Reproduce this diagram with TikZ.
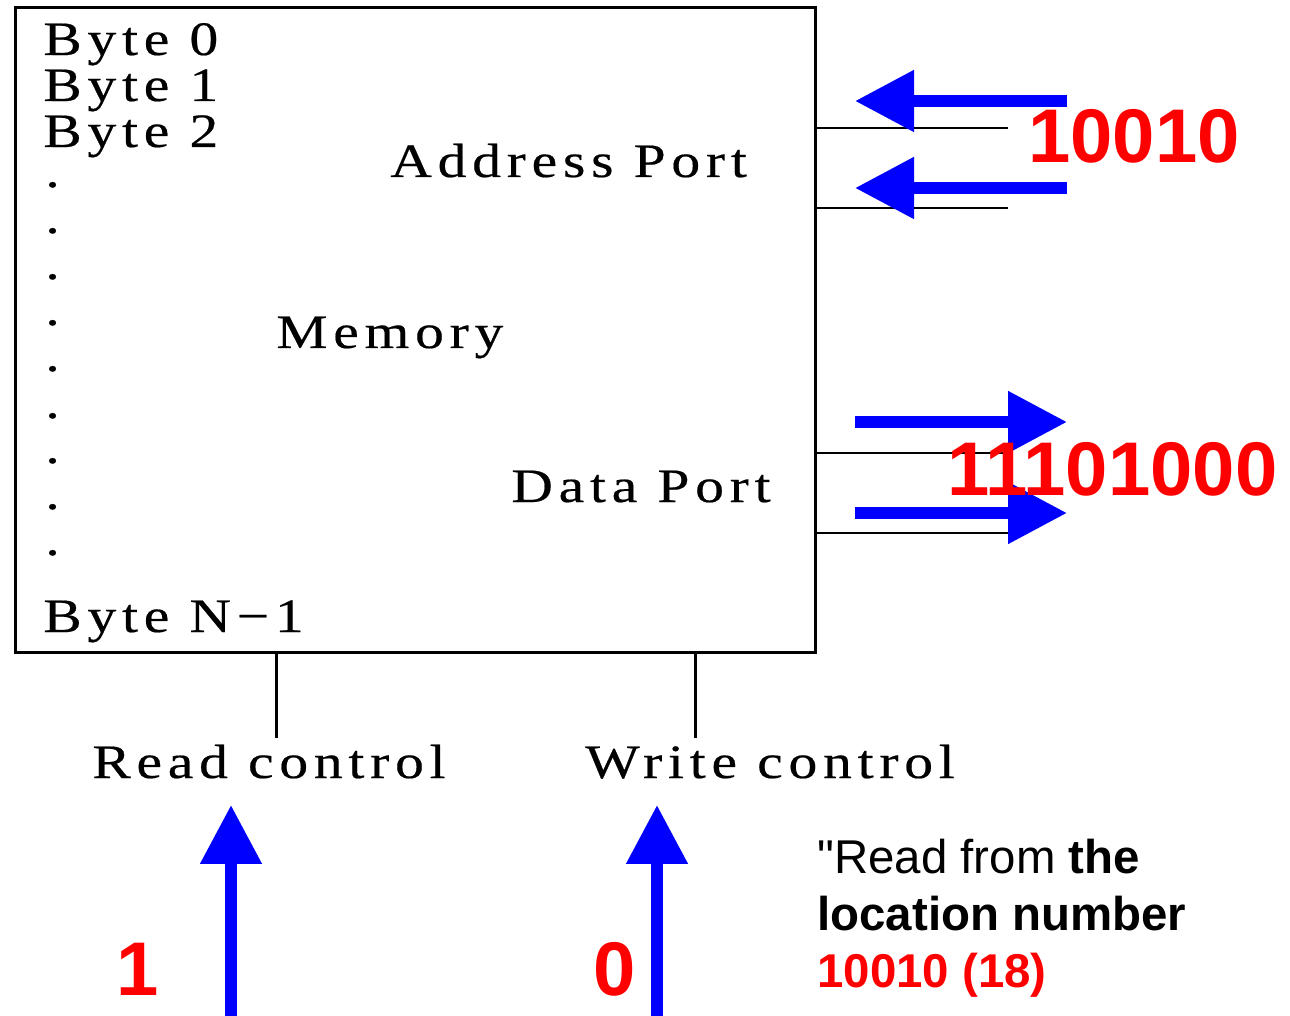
\documentclass[tikz,border=0pt]{standalone}
\usepackage{fontspec}
\setmainfont{Liberation Serif}
\newfontfamily\labelsans{Liberation Sans}
\newfontfamily\wideserif[FakeStretch=1.2,LetterSpace=12,FakeBold=0.4]{Liberation Serif}
\usetikzlibrary{arrows.meta}

\tikzset{
  serif/.style={inner sep=0pt, anchor=base west,
    font=\wideserif\fontsize{27.3pt}{32pt}\selectfont},
  bignum/.style={inner sep=0pt, anchor=base west, text=red,
    font=\labelsans\bfseries\fontsize{43.3pt}{50pt}\selectfont},
  note/.style={inner sep=0pt, anchor=base west,
    font=\labelsans\fontsize{27pt}{32pt}\selectfont},
  wire/.style={draw=black, line width=0.05cm},
  membox/.style={draw=black, line width=0.06cm, inner sep=0pt,
    minimum width=16.02cm, minimum height=12.92cm},
  bluearrow/.style={draw=blue, line width=0.23cm,
    -{Triangle[length=1.18cm,width=1.18cm]}},
}

\begin{document}
\begin{tikzpicture}[x=0.02cm,y=-0.02cm]
  \useasboundingbox (0,0) rectangle (1290,1016);

  % memory block
  \node[membox] (mem) at (415.5,330) {};

  % byte list
  \node[serif] (b0) at (43,55) {Byte 0};
  \node[serif] (b1) at (43,101) {Byte 1};
  \node[serif] (b2) at (43,147) {Byte 2};
  \foreach \yy [count=\k] in {187,233,279,325,371,418,463,509,555}
    \node[serif] (dot\k) at (45,\yy) {.};
  \node[serif] (bn) at (43,632) {Byte N−1};

  % inner labels
  \node[serif] (addr) at (390,177) {Address Port};
  \node[serif] (memlbl) at (276,348) {Memory};
  \node[serif] (data) at (511,502) {Data Port};

  % address and data port wires
  \coordinate (a1s) at (817,128);  \coordinate (a1e) at (1008,128);
  \coordinate (a2s) at (817,208);  \coordinate (a2e) at (1008,208);
  \coordinate (d1s) at (817,453);  \coordinate (d1e) at (1008,453);
  \coordinate (d2s) at (817,533);  \coordinate (d2e) at (1008,533);
  \draw[wire] (a1s) -- (a1e);
  \draw[wire] (a2s) -- (a2e);
  \draw[wire] (d1s) -- (d1e);
  \draw[wire] (d2s) -- (d2e);

  % control lines
  \node[serif] (rd) at (92,778) {Read control};
  \node[serif] (wr) at (585,778) {Write control};
  \coordinate (rtop) at (276,654);
  \coordinate (wtop) at (695,654);
  \draw[wire, line width=0.06cm] (rtop) -- ([yshift=0.12cm]rtop |- rd.north);
  \draw[wire, line width=0.06cm] (wtop) -- ([yshift=0.12cm]wtop |- wr.north);

  % signal arrows
  \coordinate (ai1) at (1067,101);  \coordinate (ao1) at (855,101);
  \coordinate (ai2) at (1067,188);  \coordinate (ao2) at (855,188);
  \coordinate (di1) at (855,422);   \coordinate (do1) at (1067,422);
  \coordinate (di2) at (855,513);   \coordinate (do2) at (1067,513);
  \coordinate (ri) at (231,1016);   \coordinate (ro) at (231,805);
  \coordinate (wi) at (657,1016);   \coordinate (wo) at (657,805);
  \draw[bluearrow] (ai1) -- (ao1);
  \draw[bluearrow] (ai2) -- (ao2);
  \draw[bluearrow] (di1) -- (do1);
  \draw[bluearrow] (di2) -- (do2);
  \draw[bluearrow] (ri) -- (ro);
  \draw[bluearrow] (wi) -- (wo);

  % values on the buses
  \node[bignum] (addrval) at (1028,163) {10010};
  \node[bignum] (dataval) at (947,495) {11101000};
  \node[bignum] (rdval) at (116,995) {1};
  \node[bignum] (wrval) at (593,995) {0};

  % explanation
  \node[note] (n1) at (817,873) {"Read from \textbf{the}};
  \node[note] (n2) at (817,930) {\textbf{location number}};
  \node[note, text=red] (n3) at (817,987) {\textbf{10010 (18)}};
\end{tikzpicture}
\end{document}
